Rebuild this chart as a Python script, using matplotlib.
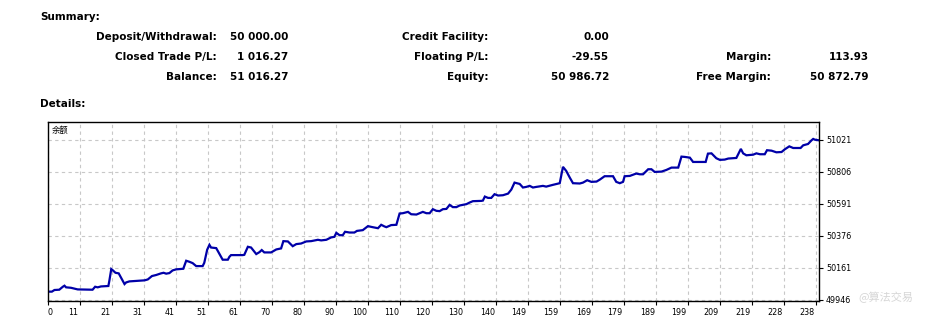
import matplotlib.pyplot as plt
from matplotlib.transforms import ScaledTranslation

# balance curve: trade number -> balance
trade_no = [0, 1.2, 2.0, 3.5, 4.6, 5.1, 5.6, 7.1, 9.2, 13.8, 14.6, 15.4, 16.4, 18.7, 19.0,
            19.6, 20.0, 20.9, 21.9, 23.7, 24.2, 25.2, 29.9, 30.9, 32.2, 33.5, 35.0, 35.8,
            36.6, 37.6, 38.6, 39.7, 41.9, 42.8, 43.8, 44.8, 45.9, 47.9, 48.4, 49.3, 50.0,
            50.5, 52.1, 54.1, 55.7, 56.2, 56.7, 60.3, 60.8, 61.9, 62.9, 64.5, 65.5, 66.2,
            67.0, 69.1, 70.7, 72.2, 72.9, 74.3, 75.8, 76.9, 78.4, 80.0, 81.5, 83.6, 84.6,
            86.2, 87.7, 88.7, 89.3, 90.3, 91.3, 92.0, 93.4, 94.9, 95.7, 97.5, 99.1, 100.1,
            102.2, 103.2, 104.2, 104.8, 106.3, 107.9, 108.9, 109.9, 111.5, 112.5, 114.1,
            115.1, 116.1, 117.2, 118.2, 119.2, 120.3, 121.3, 122.3, 123.4, 124.4, 125.4,
            126.5, 127.5, 129.6, 130.6, 131.6, 134.2, 134.7, 135.3, 136.3, 137.3, 138.3,
            139.4, 140.9, 142.5, 143.5, 144.5, 146.1, 147.1, 148.1, 149.2, 150.2, 151.2,
            153.3, 154.3, 156.4, 158.5, 159.5, 160.5, 161.6, 162.6, 164.7, 165.7, 167.0,
            168.3, 169.9, 170.9, 172.4, 175.0, 176.0, 177.1, 178.1, 178.6, 180.2, 182.2,
            183.3, 184.3, 185.9, 186.9, 187.9, 190.0, 191.5, 193.1, 195.2, 196.2, 197.2,
            198.8, 199.8, 203.7, 204.4, 205.5, 207.0, 208.1, 209.6, 210.7, 213.2, 214.6,
            215.3, 216.3, 218.4, 219.4, 220.5, 222.0, 222.7, 224.1, 225.6, 227.2, 228.2,
            229.6, 230.8, 233.1, 233.9, 235.4, 236.5, 237.0, 237.5, 238.7]
balance = [50000, 50000, 50011, 50013, 50033, 50040, 50029, 50026, 50015, 50013, 50033,
           50029, 50035, 50038, 50073, 50152, 50145, 50127, 50123, 50051, 50062, 50069,
           50076, 50082, 50105, 50112, 50123, 50127, 50121, 50125, 50143, 50150, 50154,
           50208, 50201, 50192, 50172, 50172, 50194, 50282, 50315, 50297, 50293, 50215,
           50215, 50235, 50246, 50246, 50248, 50302, 50297, 50253, 50266, 50280, 50264,
           50264, 50284, 50291, 50340, 50338, 50306, 50320, 50324, 50338, 50340, 50349,
           50345, 50349, 50365, 50369, 50396, 50380, 50380, 50403, 50398, 50398, 50409,
           50414, 50441, 50436, 50427, 50450, 50439, 50434, 50448, 50450, 50526, 50528,
           50537, 50521, 50519, 50528, 50537, 50528, 50528, 50555, 50544, 50542, 50555,
           50557, 50584, 50569, 50569, 50580, 50589, 50600, 50609, 50611, 50613, 50640,
           50631, 50631, 50656, 50647, 50649, 50660, 50687, 50734, 50725, 50701, 50705,
           50712, 50701, 50705, 50712, 50707, 50719, 50730, 50840, 50813, 50768, 50730,
           50728, 50734, 50750, 50739, 50741, 50754, 50777, 50777, 50739, 50730, 50739,
           50777, 50779, 50795, 50790, 50790, 50824, 50824, 50806, 50808, 50819, 50835,
           50835, 50909, 50907, 50902, 50873, 50873, 50929, 50931, 50898, 50887, 50889,
           50896, 50900, 50961, 50931, 50918, 50922, 50931, 50925, 50925, 50952, 50949,
           50938, 50940, 50958, 50978, 50967, 50967, 50985, 50994, 51019, 51028, 51023,
           51019]

x_labels = ["0", "11", "21", "31", "41", "51", "61", "70", "80", "90", "100", "110", "120",
            "130", "140", "149", "159", "169", "179", "189", "199", "209", "219", "228", "238"]
y_ticks = [49946, 50161, 50376, 50591, 50806, 51021]

summary_labels = [["Deposit/Withdrawal:", "Closed Trade P/L:", "Balance:"],
                  ["Credit Facility:", "Floating P/L:", "Equity:"],
                  ["", "Margin:", "Free Margin:"]]
summary_values = [["50 000.00", "1 016.27", "51 016.27"],
                  ["0.00", "-29.55", "50 986.72"],
                  ["", "113.93", "50 872.79"]]

W, H = 927, 323
fig = plt.figure(figsize=(W / 100, H / 100), dpi=100)


def px(x, y):
    return x / W, 1 - y / H


# header block
fig.text(*px(40, 17), "Summary:", fontsize=7.5, fontweight="bold", va="center")
fig.text(*px(40, 104), "Details:", fontsize=7.5, fontweight="bold", va="center")
label_right = [217, 488, 771]
value_right = [288, 609, 869]
row_y = [37, 57, 77]
for c in range(3):
    for r in range(3):
        fig.text(*px(label_right[c], row_y[r]), summary_labels[c][r], fontsize=7.5,
                 fontweight="bold", ha="right", va="center")
        fig.text(*px(value_right[c], row_y[r]), summary_values[c][r], fontsize=7.5,
                 fontweight="bold", ha="right", va="center")

# chart
ax = fig.add_axes([48 / W, 1 - 301 / H, 771 / W, 179 / H])
ax.plot(trade_no, balance, color="#0000a8", lw=1.6, solid_joinstyle="miter")
ax.set_xlim(0, 238.8)
ax.set_ylim(49937, 51142)

xt = [238 * i / (len(x_labels) - 1) for i in range(len(x_labels))]
ax.set_xticks(xt)
ax.set_xticklabels(x_labels)
ax.set_yticks(y_ticks)
ax.set_yticklabels([str(v) for v in y_ticks])
ax.yaxis.tick_right()
ax.tick_params(axis="both", direction="out", length=3, width=0.8, color="black",
               labelsize=5.8, pad=2)
shift = ScaledTranslation(-1.5 / 100, 0, fig.dpi_scale_trans)
for i, lab in enumerate(ax.get_xticklabels()):
    if i == 0:
        lab.set_ha("left")
    else:
        lab.set_ha("right")
        lab.set_transform(lab.get_transform() + shift)
for lab in ax.get_yticklabels():
    lab.set_ha("left")

ax.grid(True, color="#c8c8c8", linestyle=(0, (3, 3)), linewidth=0.8)
for s in ax.spines.values():
    s.set_color("black")
    s.set_linewidth(1)

ax.text(0.005, 0.955, "余额", transform=ax.transAxes, fontsize=6,
        family=["Noto Sans CJK SC", "DejaVu Sans"], va="center", ha="left")

# faint watermark in the corner
fig.text(*px(858, 297), "@算法交易", fontsize=8, color="#d6d6d6",
         family=["Noto Sans CJK SC", "DejaVu Sans"], va="center", ha="left")

fig.savefig("out.png", dpi=100)
